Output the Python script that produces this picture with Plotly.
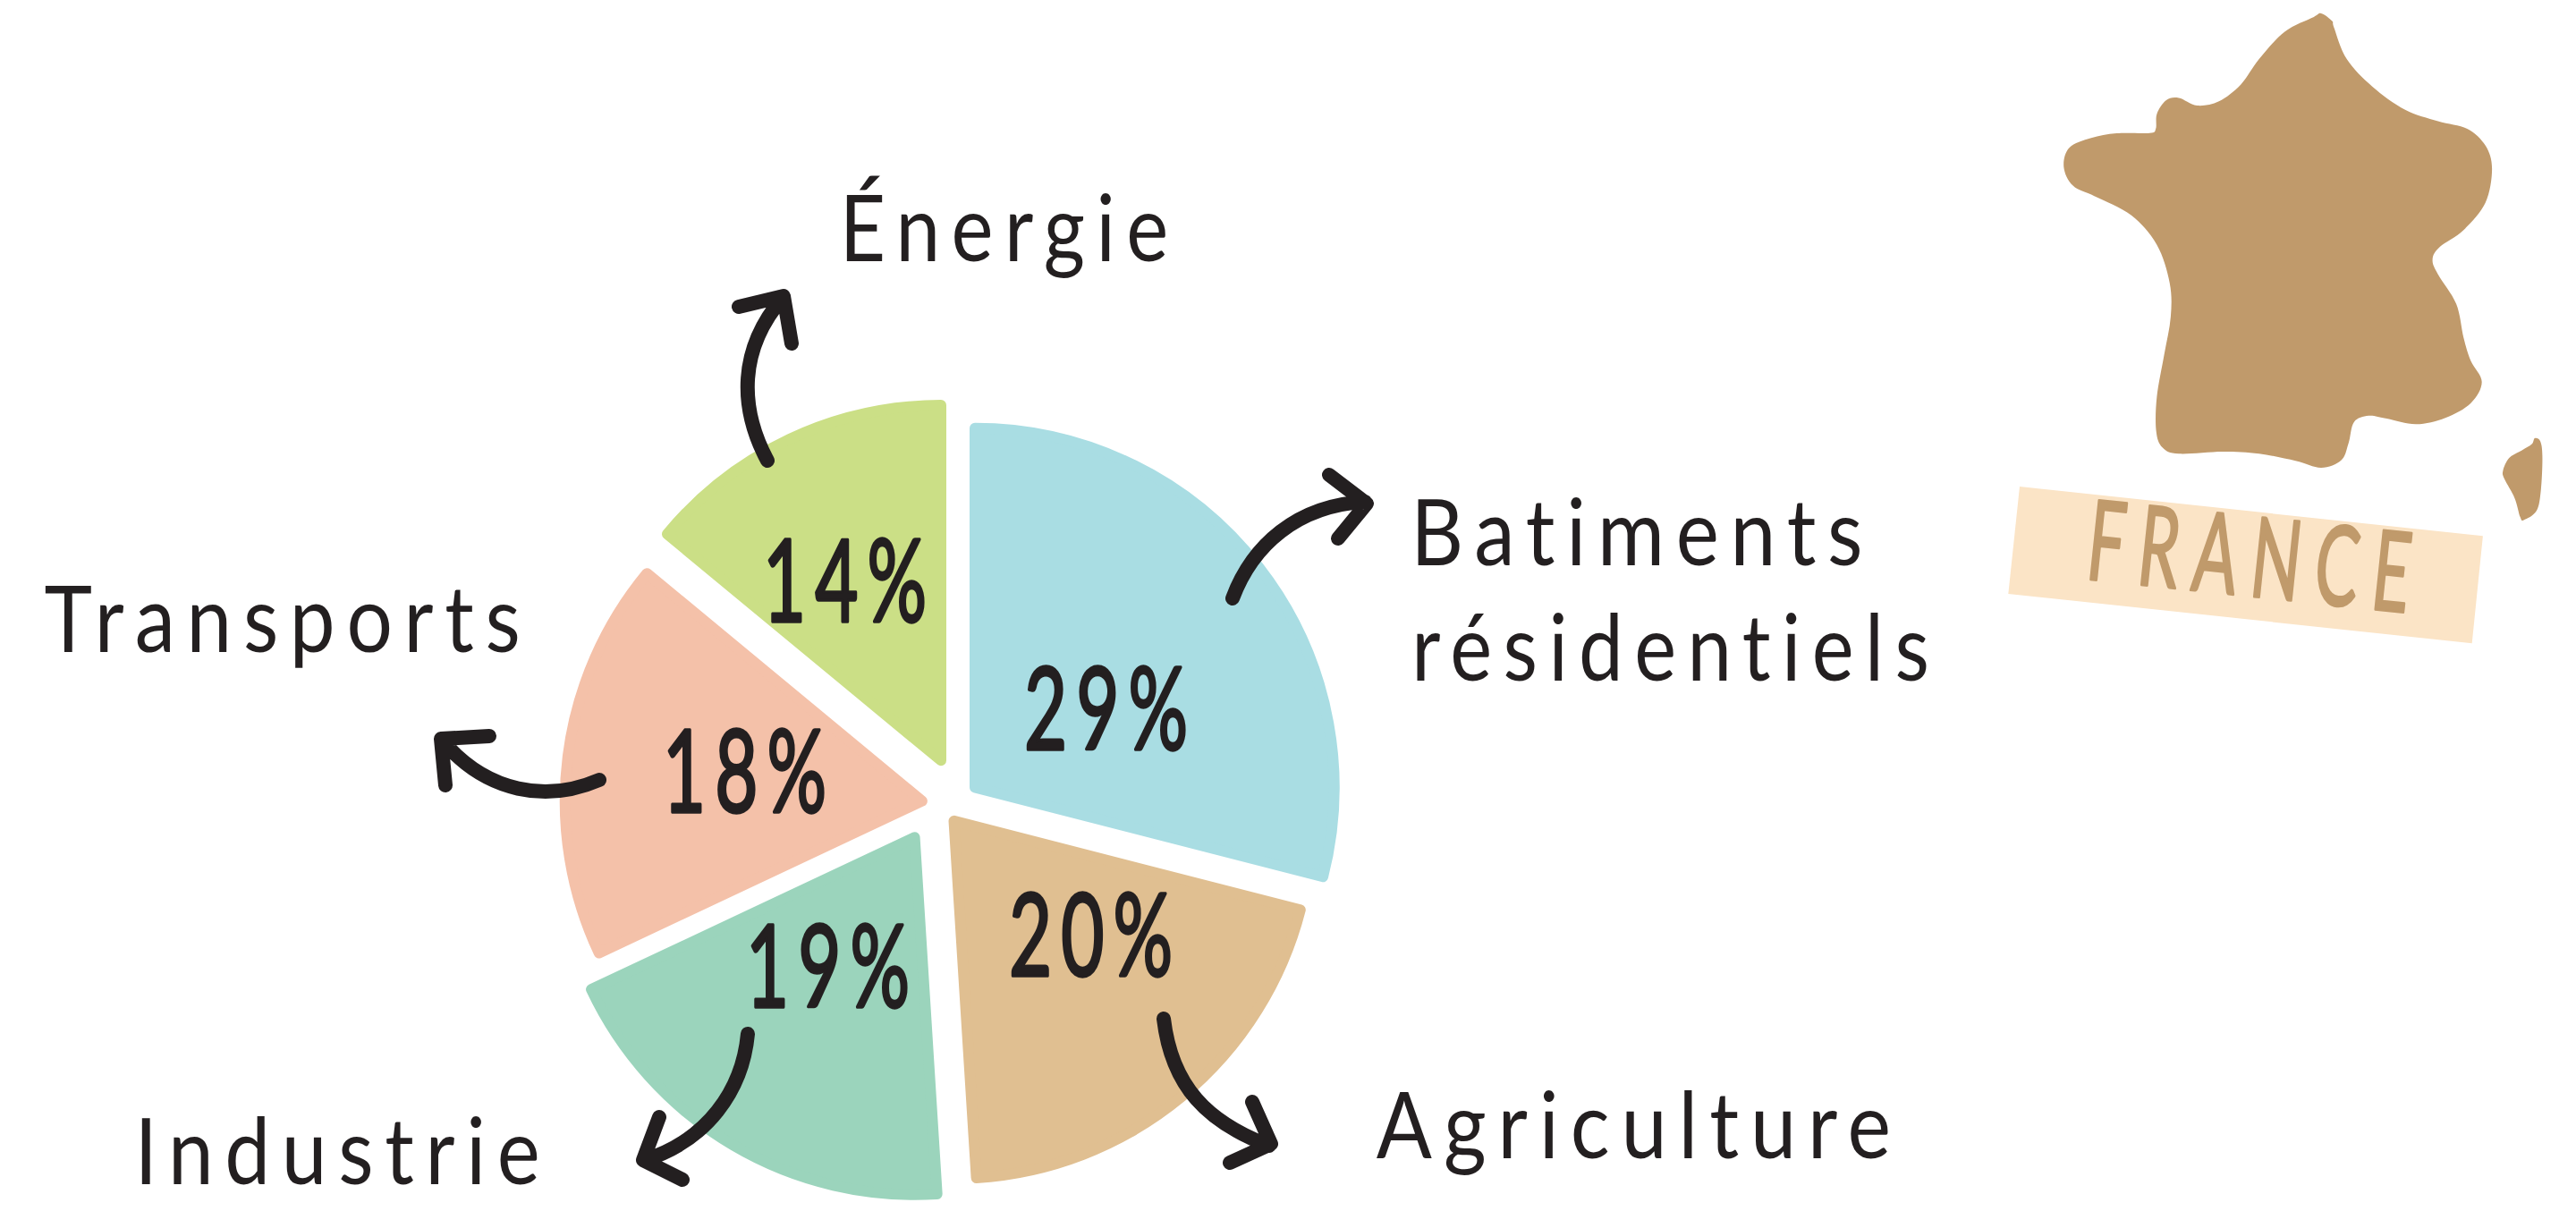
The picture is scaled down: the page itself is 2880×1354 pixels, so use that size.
import json
import math
import plotly.graph_objects as go

# ---- data ----
categories = ["Batiments résidentiels", "Agriculture", "Industrie", "Transports", "Énergie"]
shares = [29, 20, 19, 18, 14]
colors = ["#A9DDE3", "#E0BF91", "#9BD4BC", "#F4C1A9", "#CBDF86"]

# ---- layout of the drawing (page pixels) ----
W, H = 2880, 1354
INK = "#231F20"
BROWN = "#C09A6B"
PEACH = "#FBE4C6"
RADIUS = 413
ROUND = 12
apexes = [(1084, 885), (1060, 910), (1028, 927), (1042, 897), (1058, 863)]
pct_pos = [(1236, 788), (1219, 1041), (925, 1076), (832, 858), (944, 645)]
PCT_W = 182

# text, centre x, baseline y, width
labels = [
    ("Énergie", 1123.5, 288, 369),
    ("Batiments", 1831, 628, 507),
    ("résidentiels", 1868, 757, 580),
    ("Transports", 316, 725, 534),
    ("Industrie", 378, 1320, 455),
    ("Agriculture", 1827, 1291, 577),
]

france = [(850,40),(870,32),(900,50),(905,65),(940,140),(1010,205),(1100,260),(1190,287),(1270,305),(1320,345),
          (1338,400),(1320,480),(1260,545),(1195,585),(1175,615),(1190,650),(1240,720),(1260,800),(1280,855),
          (1310,905),(1280,955),(1210,990),(1130,1005),(1050,992),(1000,985),(960,1000),(945,1050),(925,1090),
          (870,1108),(800,1092),(700,1075),(600,1070),(480,1075),(435,1060),(418,1020),(420,940),(440,840),
          (458,750),(455,670),(420,580),(350,510),(250,465),(190,440),(165,395),(180,350),(240,327),(310,316),
          (400,315),(417,305),(420,270),(445,238),(480,232),(530,250),(590,240),(650,200),(700,140),(770,75)]
corsica = [(1447,1052),(1455,1038),(1470,1045),(1476,1080),(1472,1160),(1460,1210),(1425,1232),(1415,1225),
           (1400,1180),(1372,1135),(1368,1115),(1385,1085),(1420,1067)]
tag = [(44,1153),(1313,1270),(1283,1524),(13,1407)]


def to_page(p):
    return (2240 + p[0] / 2.45, p[1] / 2.119)


def smooth(points):
    pts = [to_page(p) for p in points]
    n = len(pts)
    d = f"M{pts[0][0]:.1f},{pts[0][1]:.1f}"
    for i in range(n):
        p0, p1, p2, p3 = pts[i - 1], pts[i], pts[(i + 1) % n], pts[(i + 2) % n]
        c1 = (p1[0] + (p2[0] - p0[0]) / 6, p1[1] + (p2[1] - p0[1]) / 6)
        c2 = (p2[0] - (p3[0] - p1[0]) / 6, p2[1] - (p3[1] - p1[1]) / 6)
        d += f" C{c1[0]:.1f},{c1[1]:.1f} {c2[0]:.1f},{c2[1]:.1f} {p2[0]:.1f},{p2[1]:.1f}"
    return d + " Z"


arrows = [
    "M858,515 C826,455 826,390 875,333 M826,343 L876,331 L885,384",
    "M1378,669 C1400,610 1450,565 1526,561 M1486,531 L1528,563 L1496,602",
    "M1301,1139 C1310,1215 1350,1255 1419,1281 M1400,1232 L1421,1279 L1375,1300",
    "M836,1156 C830,1220 790,1275 721,1297 M737,1249 L719,1297 L763,1319",
    "M670,872 C610,898 545,885 498,832 M547,823 L493,826 L498,878",
]

fig = go.Figure()

# an empty cartesian trace gives the shapes and annotations their page-pixel axes
fig.add_trace(go.Scatter(x=[0, W], y=[0, H], mode="markers", marker=dict(opacity=0),
                         hoverinfo="skip", showlegend=False))

# one pie per sector so each one can sit on its own apex
start = 0.0
total = sum(shares)
for name, v, col, (ax, ay) in zip(categories, shares, colors, apexes):
    sweep = 360.0 * v / total
    mid = math.radians(start + sweep / 2)
    inset = (ROUND / 2) / math.sin(math.radians(sweep / 2))
    cx = ax + inset * math.sin(mid)
    cy = ay - inset * math.cos(mid)
    r = RADIUS - ROUND / 2 - inset * 0.7
    fig.add_trace(go.Pie(
        labels=[name, "reste"], values=[v, total - v], sort=False, direction="clockwise",
        rotation=start, textinfo="none", hoverinfo="skip", showlegend=False,
        marker=dict(colors=[col, "rgba(0,0,0,0)"],
                    line=dict(color=[col, "rgba(0,0,0,0)"], width=ROUND)),
        domain=dict(x=[(cx - r) / W, (cx + r) / W], y=[1 - (cy + r) / H, 1 - (cy - r) / H]),
    ))
    start += sweep

shapes = [
    dict(type="path", path=smooth(france), fillcolor=BROWN, line_width=0, layer="below"),
    dict(type="path", path=smooth(corsica), fillcolor=BROWN, line_width=0, layer="below"),
    dict(type="path", path="M" + " L".join(f"{to_page(p)[0]:.1f},{to_page(p)[1]:.1f}" for p in tag) + " Z",
         fillcolor=PEACH, line_width=0, layer="below"),
]
for a in arrows:
    shapes.append(dict(type="path", path=a, line=dict(color=INK, width=16), fillcolor="rgba(0,0,0,0)", layer="above"))

FONT = "Lato, sans-serif"
LABEL_SIZE = 102
TAIL = 11   # trailing letter-space left at the end of a spaced line
annotations = []
fit = {}
for text, cx, base, w in labels:
    annotations.append(dict(x=cx + TAIL / 2, y=base - 0.35 * LABEL_SIZE, text=text, showarrow=False, xanchor="center",
                            yanchor="middle", font=dict(family=FONT, size=LABEL_SIZE, color=INK)))
    fit[text] = [w + TAIL, "0.14em", 0]
for v, (cx, cy) in zip(shares, pct_pos):
    t = f"{v}%"
    annotations.append(dict(x=cx + TAIL / 2, y=cy, text=t, showarrow=False, xanchor="center", yanchor="middle",
                            font=dict(family=FONT, size=128, color=INK)))
    fit[t] = [PCT_W + TAIL, "0.12em", 3.5]
annotations.append(dict(x=2523, y=619, text="FRANCE", showarrow=False, textangle=6, xanchor="center",
                        yanchor="middle", font=dict(family=FONT, size=124, color=BROWN)))
fit["FRANCE"] = [378, "0.22em", 3]

fig.update_layout(
    width=W, height=H, margin=dict(l=0, r=0, t=0, b=0), paper_bgcolor="white", plot_bgcolor="white",
    showlegend=False,
    xaxis=dict(range=[0, W], visible=False, fixedrange=True),
    yaxis=dict(range=[H, 0], visible=False, fixedrange=True),
    shapes=shapes, annotations=annotations,
)

post = """
document.body.style.margin = '0';
document.documentElement.style.overflow = 'hidden';
var fit = %s;
document.querySelectorAll('.annotation-text').forEach(function (t) {
  var f = fit[t.textContent];
  if (f) {
    t.style.letterSpacing = f[1];
    t.setAttribute('textLength', f[0]);
    t.setAttribute('lengthAdjust', 'spacingAndGlyphs');
    if (f[2]) {
      t.style.stroke = t.style.fill;
      t.style.strokeWidth = f[2] + 'px';
      t.style.strokeLinejoin = 'round';
      t.style.strokeLinecap = 'round';
    }
  }
});
document.querySelectorAll('.slice path').forEach(function (p) { p.style.strokeLinejoin = 'round'; });
document.querySelectorAll('.layer-above path').forEach(function (p) {
  p.style.strokeLinejoin = 'round'; p.style.strokeLinecap = 'round';
});
""" % json.dumps(fit, ensure_ascii=False)

fig.write_html("out.html", post_script=post, config=dict(displayModeBar=False))
